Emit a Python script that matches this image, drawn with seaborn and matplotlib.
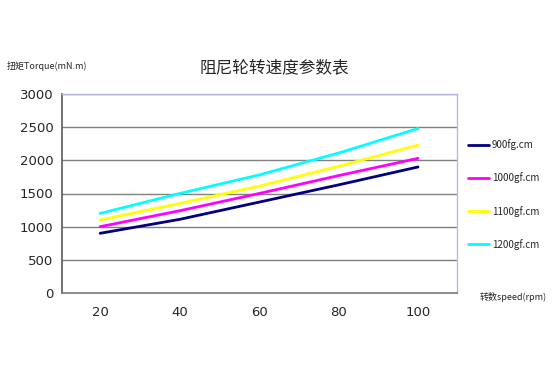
import matplotlib
matplotlib.use("Agg")
import matplotlib.pyplot as plt
import seaborn as sns
import pandas as pd

speeds = [20, 40, 60, 80, 100]
s900 = [900, 1110, 1370, 1630, 1900]
s1000 = [1000, 1240, 1500, 1770, 2030]
s1100 = [1100, 1350, 1610, 1910, 2230]
s1200 = [1200, 1500, 1780, 2110, 2480]
series_names = ["900fg.cm", "1000gf.cm", "1100gf.cm", "1200gf.cm"]
colors = ["#000080", "#ff00ff", "#ffff00", "#00ffff"]
yticks = [0, 500, 1000, 1500, 2000, 2500, 3000]
xticks = [20, 40, 60, 80, 100]

sns.set_theme(style="white")
plt.rcParams['font.family'] = ['Noto Sans CJK SC', 'DejaVu Sans']

rows = []
for name, vals in zip(series_names, [s900, s1000, s1100, s1200]):
    for x, v in zip(speeds, vals):
        rows.append({"speed": x, "torque": v, "series": name})
df = pd.DataFrame(rows)

fig = plt.figure(figsize=(5.52, 3.73), dpi=100)
ax = fig.add_axes([62/552, 1-293/373, (457-62)/552, (293-94)/373])

sns.lineplot(data=df, x="speed", y="torque", hue="series", hue_order=series_names,
             palette=colors, linewidth=2.0, ax=ax, legend=True)

ax.set_xlim(10.4, 109.8)
ax.set_ylim(0, 3000)
ax.set_yticks(yticks)
ax.set_xticks(xticks)
ax.set_yticklabels([str(v) for v in yticks], fontsize=9.5, family=['DejaVu Sans'])
ax.set_xticklabels([str(v) for v in xticks], fontsize=9.5, family=['DejaVu Sans'])
ax.tick_params(axis='both', length=0, pad=6)
ax.tick_params(axis='x', pad=9)
ax.grid(axis='y', color='#808080', linewidth=1.0)
ax.set_axisbelow(True)
for side in ['top', 'right']:
    ax.spines[side].set_color('#b8b8e8')
    ax.spines[side].set_linewidth(1.0)
ax.spines['left'].set_color('#606060')
ax.spines['bottom'].set_color('#808080')
ax.set_xlabel("")
ax.set_ylabel("")

leg = ax.legend(loc='center left', bbox_to_anchor=(1.005, 0.495), frameon=False,
                fontsize=7, handlelength=2.2, handletextpad=0.3, labelspacing=2.3)

fig.text(274/552, 1-68/373, "阻尼轮转速度参数表", ha='center', va='center', fontsize=12)
fig.text(7/552, 1-66/373, "扭矩Torque(mN.m)", ha='left', va='center', fontsize=6.5)
fig.text(480/552, 1-297/373, "转数speed(rpm)", ha='left', va='center', fontsize=6.5)

fig.savefig("out.png", dpi=100)
